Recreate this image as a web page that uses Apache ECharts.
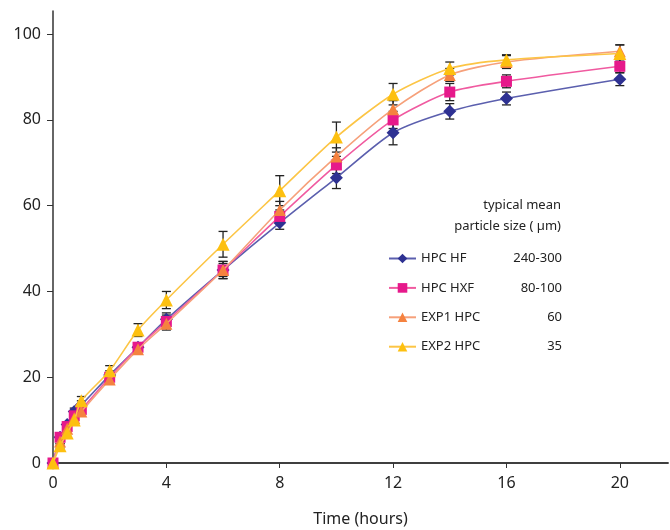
<!DOCTYPE html>
<html>
<head>
<meta charset="utf-8">
<script src="https://cdn.jsdelivr.net/npm/echarts@6/dist/echarts.min.js"></script>
<style>
  html, body { margin: 0; padding: 0; background: #fff; }
  #chart { width: 670px; height: 530px; }
</style>
</head>
<body>
<div id="chart"></div>
<script>
// time points (hours)
const time = [0, 0.25, 0.5, 0.75, 1, 2, 3, 4, 6, 8, 10, 12, 14, 16, 20];

// released % per grade
const hpcHF  = [0, 6, 9, 12, 13.5, 20.5, 27, 33.5, 45, 56, 66.5, 77, 82, 85, 89.5];
const hpcHXF = [0, 6, 8.5, 11, 12.5, 20, 27, 33, 45, 57.5, 69.5, 80, 86.5, 89, 92.5];
const exp1   = [0, 5, 8, 10.5, 12, 19.5, 26.5, 32.5, 45, 59, 71.5, 82.5, 90.5, 93.5, 96];
const exp2   = [0, 4, 7, 10, 14.5, 21.5, 31, 38, 51, 63.5, 76, 86, 92, 94, 95.5];

// error bar half-widths
const hpcHFErr  = [0, 0.5, 0.5, 0.8, 1, 1, 1, 1.5, 2, 1.5, 2.5, 2.8, 1.8, 1.5, 1.5];
const hpcHXFErr = [0, 0.5, 0.5, 0.5, 0.8, 1, 1, 1.5, 1.5, 1.5, 2, 2, 2, 1.5, 1.5];
const exp1Err   = [0, 0.5, 0.5, 0.5, 0.8, 1, 1, 1.5, 2, 2, 2, 2, 1.5, 1.5, 1.5];
const exp2Err   = [0, 0.5, 0.8, 1, 1, 1.2, 1.5, 2, 3, 3.5, 3.5, 2.5, 1.5, 1.2, 2];

const names = ['HPC HF', 'HPC HXF', 'EXP1 HPC', 'EXP2 HPC'];
const sizes = ['240-300', '80-100', '60', '35'];

const font = 'Noto Sans';
const chart = echarts.init(document.getElementById('chart'), null, { renderer: 'canvas' });

const styles = [
  { line: '#5b5fae', mark: '#2e3192', symbol: 'diamond', size: 13 },
  { line: '#f05aa0', mark: '#e6198b', symbol: 'rect', size: 11 },
  { line: '#f6a07a', mark: '#f5823f', symbol: 'triangle', size: 12 },
  { line: '#fcc545', mark: '#fdc010', symbol: 'triangle', size: 13 }
];
const values = [hpcHF, hpcHXF, exp1, exp2];
const errors = [hpcHFErr, hpcHXFErr, exp1Err, exp2Err];

// error bars (drawn first, behind the markers)
const errSeries = values.map((v, i) => ({
  type: 'custom',
  z: 1,
  silent: true,
  data: time.map((t, k) => [t, v[k] - errors[i][k], v[k] + errors[i][k]]),
  renderItem: function (params, api) {
    const lo = api.coord([api.value(0), api.value(1)]);
    const hi = api.coord([api.value(0), api.value(2)]);
    const w = 4.5;
    const st = { stroke: '#222', lineWidth: 1.3 };
    return {
      type: 'group',
      children: [
        { type: 'line', shape: { x1: hi[0], y1: hi[1], x2: lo[0], y2: lo[1] }, style: st },
        { type: 'line', shape: { x1: hi[0] - w, y1: hi[1], x2: hi[0] + w, y2: hi[1] }, style: st },
        { type: 'line', shape: { x1: lo[0] - w, y1: lo[1], x2: lo[0] + w, y2: lo[1] }, style: st }
      ]
    };
  }
}));

const lineSeries = values.map((v, i) => ({
  name: names[i],
  type: 'line',
  z: 2 + i,
  smooth: 0.25,
  symbol: styles[i].symbol,
  symbolSize: styles[i].size,
  showAllSymbol: true,
  data: time.map((t, k) => [t, v[k]]),
  lineStyle: { color: styles[i].line, width: 1.6 },
  itemStyle: { color: styles[i].mark },
  emphasis: { disabled: true }
}));

const option = {
  backgroundColor: '#fff',
  animation: false,
  grid: { left: 53, right: 2, top: 11, bottom: 67, outerBoundsMode: 'none' },
  xAxis: [{
    type: 'value',
    min: 0,
    max: 21.7,
    interval: 4,
    name: 'Time (hours)',
    nameLocation: 'middle',
    nameGap: 48,
    nameTextStyle: { fontFamily: font, fontSize: 16, color: '#222' },
    axisLine: { onZero: false, lineStyle: { color: '#333', width: 1.5 } },
    axisTick: { show: true, length: 5, lineStyle: { color: '#333' } },
    axisLabel: { showMaxLabel: false, fontFamily: font, fontSize: 16, color: '#222', margin: 12 },
    splitLine: { show: false }
  }, {
    type: 'value',
    position: 'top',
    min: 0,
    max: 21.7,
    axisLine: { show: true, lineStyle: { color: '#333', width: 1.5 } },
    axisTick: { show: false },
    axisLabel: { show: false },
    splitLine: { show: false }
  }],
  yAxis: {
    type: 'value',
    min: 0,
    max: 105.4,
    interval: 20,
    axisLine: { show: true, lineStyle: { color: '#333', width: 1.5 } },
    axisTick: { show: true, length: 6, lineStyle: { color: '#333' } },
    axisLabel: { showMaxLabel: false, fontFamily: font, fontSize: 16, color: '#222', margin: 12 },
    splitLine: { show: false }
  },
  legend: {
    orient: 'vertical',
    left: 383,
    top: 247,
    itemWidth: 27,
    itemHeight: 12,
    itemGap: 16.4,
    data: names,
    formatter: function (name) {
      return '{a|' + name + '}{b|' + sizes[names.indexOf(name)] + '}';
    },
    textStyle: {
      fontFamily: font,
      fontSize: 13,
      color: '#222',
      rich: {
        a: { width: 85, fontFamily: font, fontSize: 13, color: '#222' },
        b: { width: 56, align: 'right', fontFamily: font, fontSize: 13, color: '#222' }
      }
    }
  },
  graphic: [{
    type: 'text',
    x: 561,
    y: 195,
    style: {
      text: 'typical mean\nparticle size ( \u00b5m)',
      align: 'right',
      verticalAlign: 'top',
      lineHeight: 21,
      font: '13px "Noto Sans"',
      fill: '#222'
    }
  }],
  series: errSeries.concat(lineSeries)
};

chart.setOption(option);
</script>
</body>
</html>
